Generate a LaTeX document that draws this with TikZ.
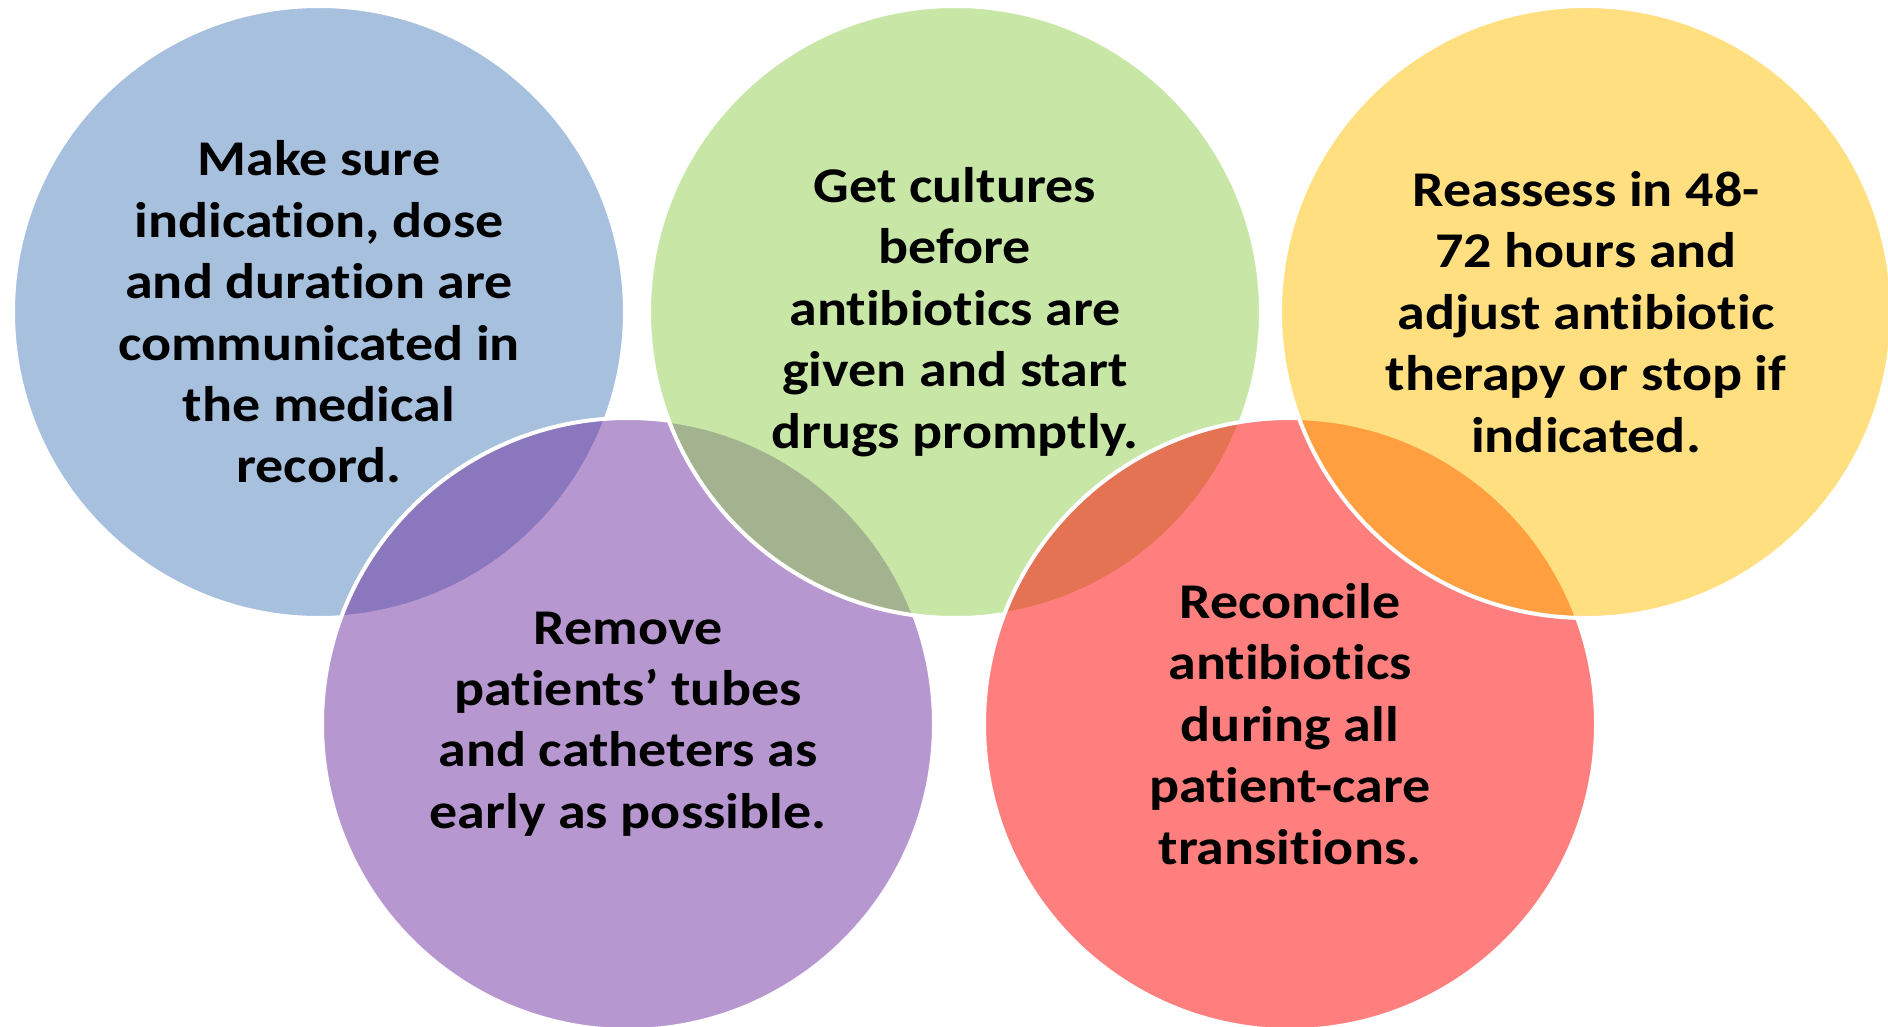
\documentclass[tikz,border=0pt]{standalone}
\usepackage{fontspec}
\setmainfont{Carlito}[Ligatures=NoCommon]
\definecolor{cblue}{HTML}{4F81BD}
\definecolor{cpurple}{HTML}{7030A0}
\definecolor{cgreen}{HTML}{92D050}
\definecolor{cred}{HTML}{FF0000}
\definecolor{cyellow}{HTML}{FFC000}
\begin{document}
\begin{tikzpicture}[x=1pt,y=-1pt,
  circ/.style={circle, draw=white, line width=4pt, fill opacity=0.5, draw opacity=1,
    minimum size=612pt, inner sep=0pt, outer sep=0pt},
  label/.style={align=center, text=black, inner sep=0pt, xscale=1.12,
    font=\fontsize{50pt}{61.4pt}\selectfont\bfseries}]
\useasboundingbox (0,0) rectangle (1888,1027);
\clip (0,0) rectangle (1888,1027);
\node[circ, fill=cblue]   (blue)   at (319,312) {};
\node[circ, fill=cpurple] (purple) at (628,724) {};
\node[circ, fill=cgreen]  (green)  at (955,312) {};
\node[circ, fill=cred]    (red)    at (1290,724) {};
\node[circ, fill=cyellow] (yellow) at (1586,312) {};
\node[label] (tblue) at (blue) {Make sure\\indication, dose\\and duration are\\communicated in\\the medical\\record.};
\node[label] (tgreen) at (green) {Get cultures\\before\\antibiotics are\\given and start\\drugs promptly.};
\node[label] (tyellow) at (yellow) {Reassess in 48-\\72 hours and\\adjust antibiotic\\therapy or stop if\\indicated.};
\node[label] (tpurple) at (purple) {Remove\\patients’ tubes\\and catheters as\\early as possible.};
\node[label] (tred) at (red) {Reconcile\\antibiotics\\during all\\patient-care\\transitions.};
\end{tikzpicture}
\end{document}
